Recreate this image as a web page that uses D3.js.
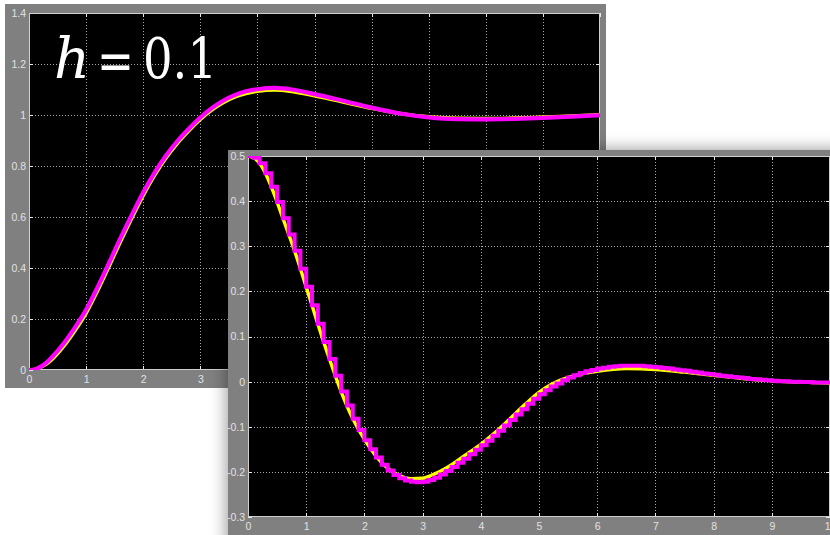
<!DOCTYPE html>
<html><head><meta charset="utf-8">
<script src="https://cdn.jsdelivr.net/npm/d3@7"></script>
<style>
html,body{margin:0;padding:0;background:#fff;overflow:hidden;}
svg{display:block;}
.big{font-family:"DejaVu Serif","Liberation Serif","Times New Roman",serif;font-size:56px;fill:#fff;}
</style></head><body>
<svg id="c" width="830" height="535"></svg>
<script>
// ---------- DATA ----------
const xTicks = [0,1,2,3,4,5,6,7,8,9,10];
const xTickLabels = ["0","1","2","3","4","5","6","7","8","9","10"];
const topYTicks = [0,0.2,0.4,0.6,0.8,1,1.2,1.4];
const topYTickLabels = ["0","0.2","0.4","0.6","0.8","1","1.2","1.4"];
const botYTicks = [-0.3,-0.2,-0.1,0,0.1,0.2,0.3,0.4,0.5];
const botYTickLabels = ["-0.3","-0.2","-0.1","0","0.1","0.2","0.3","0.4","0.5"];

// upper chart: exact (yellow) and approximate (magenta) response
const topTime   = [0,0.1,0.2,0.3,0.4,0.6,0.8,1.0,1.2,1.4,1.6,1.8,2.0,2.2,2.4,2.6,2.8,3.0,3.2,3.4,3.6,3.8,4.0,4.3,4.6,5.0,5.5,6.0,6.5,7.0,7.5,8.0,8.5,9.0,9.5,10];
const topExact  = [0,0.002,0.010,0.022,0.040,0.090,0.152,0.222,0.310,0.405,0.502,0.595,0.684,0.763,0.831,0.889,0.938,0.982,1.019,1.048,1.070,1.084,1.093,1.098,1.092,1.075,1.051,1.026,1.006,0.993,0.987,0.986,0.988,0.992,0.996,1.001];
const topApprox = [0,0.002,0.012,0.028,0.050,0.102,0.165,0.236,0.324,0.419,0.516,0.608,0.696,0.774,0.841,0.898,0.946,0.990,1.027,1.056,1.078,1.093,1.101,1.106,1.100,1.082,1.056,1.029,1.006,0.991,0.984,0.983,0.985,0.989,0.994,0.999];

// lower chart: exact (yellow) curve
const botTime  = [0,0.1,0.2,0.3,0.4,0.5,0.6,0.8,1.0,1.2,1.4,1.6,1.8,2.0,2.2,2.4,2.6,2.8,3.0,3.2,3.4,3.6,3.8,4.0,4.2,4.4,4.6,4.8,5.0,5.2,5.4,5.7,6.0,6.5,7.0,7.5,8.0,8.5,9.0,9.5,10];
const botExact = [0.500,0.496,0.484,0.462,0.432,0.398,0.362,0.290,0.210,0.128,0.050,-0.022,-0.082,-0.128,-0.165,-0.192,-0.208,-0.215,-0.214,-0.205,-0.192,-0.175,-0.157,-0.139,-0.118,-0.095,-0.070,-0.046,-0.024,-0.007,0.005,0.016,0.023,0.029,0.027,0.021,0.014,0.007,0.002,-0.001,-0.003];

// lower chart: sampled (h = 0.1) staircase (magenta)
const stepTime = [0,0.1,0.2,0.3,0.4,0.5,0.6,0.7,0.8,0.9,1.0,1.1,1.2,1.3,1.4,1.5,1.6,1.7,1.8,1.9,2.0,2.1,2.2,2.3,2.4,2.5,2.6,2.7,2.8,2.9,3.0,3.1,3.2,3.3,3.4,3.5,3.6,3.7,3.8,3.9,4.0,4.1,4.2,4.3,4.4,4.5,4.6,4.7,4.8,4.9,5.0,5.1,5.2,5.3,5.4,5.5,5.6,5.7,5.8,5.9,6.0,6.1,6.2,6.3,6.4,6.5,6.6,6.7,6.8,6.9,7.0,7.1,7.2,7.3,7.4,7.5,7.6,7.7,7.8,7.9,8.0,8.1,8.2,8.3,8.4,8.5,8.6,8.7,8.8,8.9,9.0,9.1,9.2,9.3,9.4,9.5,9.6,9.7,9.8,9.9,10.0];
const stepValue = [0.500,0.496,0.484,0.462,0.432,0.398,0.362,0.326,0.290,0.250,0.210,0.169,0.128,0.088,0.050,0.013,-0.022,-0.053,-0.082,-0.107,-0.130,-0.150,-0.168,-0.184,-0.197,-0.207,-0.214,-0.219,-0.222,-0.223,-0.222,-0.218,-0.213,-0.206,-0.198,-0.189,-0.180,-0.171,-0.161,-0.151,-0.141,-0.131,-0.120,-0.109,-0.097,-0.085,-0.073,-0.061,-0.049,-0.038,-0.028,-0.019,-0.011,-0.004,0.003,0.009,0.014,0.019,0.023,0.026,0.029,0.031,0.033,0.034,0.035,0.035,0.035,0.035,0.034,0.033,0.032,0.030,0.029,0.027,0.025,0.024,0.022,0.020,0.018,0.017,0.015,0.013,0.012,0.010,0.009,0.008,0.006,0.005,0.004,0.003,0.002,0.001,0.001,0.000,0.000,-0.001,-0.001,-0.002,-0.002,-0.002,-0.002];

// ---------- DRAW ----------
const svg = d3.select("#c");
const defs = svg.append("defs");
const f = defs.append("filter").attr("id","shadow").attr("x","-20%").attr("y","-20%").attr("width","140%").attr("height","140%");
f.append("feDropShadow").attr("dx",-2).attr("dy",-1).attr("stdDeviation",8).attr("flood-color","#000").attr("flood-opacity",0.38);

const PANEL = "#808080", GRID = "#a8a8a8", BOX = "#d0d0d0", LBL = "#e2e2e2";

function drawPanel(cfg){
  const g = svg.append("g");
  g.append("rect").attr("x",cfg.panel[0]).attr("y",cfg.panel[1])
    .attr("width",cfg.panel[2]).attr("height",cfg.panel[3]).attr("fill",PANEL)
    .attr("filter", cfg.shadow ? "url(#shadow)" : null);
  const x = d3.scaleLinear().domain(cfg.xDomain).range(cfg.xRange);
  const y = d3.scaleLinear().domain(cfg.yDomain).range(cfg.yRange);
  const [x0,x1] = cfg.xRange, [y0,y1] = [cfg.yRange[1], cfg.yRange[0]];
  g.append("rect").attr("x",x0).attr("y",y0).attr("width",x1-x0).attr("height",y1-y0).attr("fill","#000");

  const id = "clip"+cfg.name;
  defs.append("clipPath").attr("id",id).append("rect").attr("x",x0).attr("y",y0).attr("width",x1-x0).attr("height",y1-y0);

  const grid = g.append("g").attr("stroke",GRID).attr("stroke-width",1).attr("stroke-dasharray","1,2").attr("shape-rendering","crispEdges");
  xTicks.slice(1,-1).forEach(t=>{
    const px = Math.round(x(t))+0.5;
    grid.append("line").attr("x1",px).attr("x2",px).attr("y1",y0).attr("y2",y1);
  });
  cfg.yTicks.slice(1,-1).forEach(v=>{
    const py = Math.round(y(v))+0.5;
    grid.append("line").attr("x1",x0).attr("x2",x1).attr("y1",py).attr("y2",py);
  });

  const tk = g.append("g").attr("stroke","#e8e8e8").attr("stroke-width",1).attr("shape-rendering","crispEdges");
  xTicks.forEach(t=>{
    const px = Math.round(x(t))+0.5;
    tk.append("line").attr("x1",px).attr("x2",px).attr("y1",y1).attr("y2",y1-4);
    tk.append("line").attr("x1",px).attr("x2",px).attr("y1",y0).attr("y2",y0+4);
  });
  cfg.yTicks.forEach(v=>{
    const py = Math.round(y(v))+0.5;
    tk.append("line").attr("x1",x0).attr("x2",x0+4).attr("y1",py).attr("y2",py);
    tk.append("line").attr("x1",x1).attr("x2",x1-4).attr("y1",py).attr("y2",py);
  });

  g.append("rect").attr("x",x0+0.5).attr("y",y0+0.5).attr("width",x1-x0-1).attr("height",y1-y0-1)
    .attr("fill","none").attr("stroke",BOX).attr("stroke-width",1).attr("shape-rendering","crispEdges");

  const ax = g.append("g").attr("transform",`translate(0,${y1})`)
    .call(d3.axisBottom(x).tickValues(xTicks).tickFormat((d,i)=>xTickLabels[i]).tickSize(0).tickPadding(6));
  const ay = g.append("g").attr("transform",`translate(${x0},0)`)
    .call(d3.axisLeft(y).tickValues(cfg.yTicks).tickFormat((d,i)=>cfg.yTickLabels[i]).tickSize(0).tickPadding(3));
  [ax,ay].forEach(a=>{
    a.select(".domain").remove();
    a.selectAll("text").attr("fill",LBL).style("font-family","'Liberation Sans', Arial, sans-serif").style("font-size","10.5px");
  });

  const curves = g.append("g").attr("clip-path",`url(#${id})`);
  return {x,y,curves};
}

// upper panel
const P1 = drawPanel({name:"top", panel:[5,4,601,384], xDomain:[0,10], xRange:[29,600],
  yDomain:[0,1.4], yRange:[370,13], yTicks:topYTicks, yTickLabels:topYTickLabels});
const l1 = d3.line().x((d,i)=>P1.x(topTime[i])).y(d=>P1.y(d)).curve(d3.curveMonotoneX);
P1.curves.append("path").attr("d",l1(topExact)).attr("fill","none").attr("stroke","#ffff00").attr("stroke-width",3.4);
P1.curves.append("path").attr("d",l1(topApprox)).attr("fill","none").attr("stroke","#ff00ff").attr("stroke-width",4.2);

// h = 0.1 label
const tg = svg.append("g");
tg.append("text").attr("class","big").attr("x",54).attr("y",78).attr("font-style","italic").text("h");
tg.append("text").attr("class","big").attr("x",97).attr("y",80).attr("textLength",37).attr("lengthAdjust","spacingAndGlyphs").text("=");
tg.append("text").attr("class","big").attr("x",143).attr("y",78).attr("textLength",74).attr("lengthAdjust","spacingAndGlyphs").text("0.1");

// lower panel
const P2 = drawPanel({name:"bot", panel:[228,150,620,400], shadow:true, xDomain:[0,10], xRange:[248,830],
  yDomain:[-0.3,0.5], yRange:[517,156], yTicks:botYTicks, yTickLabels:botYTickLabels});
const l2 = d3.line().x((d,i)=>P2.x(botTime[i])).y(d=>P2.y(d)).curve(d3.curveMonotoneX);
const s2 = d3.line().x((d,i)=>P2.x(stepTime[i])).y(d=>P2.y(d)).curve(d3.curveStepAfter);
P2.curves.append("path").attr("d",l2(botExact)).attr("fill","none").attr("stroke","#ffff00").attr("stroke-width",3.4);
P2.curves.append("path").attr("d",s2(stepValue)).attr("fill","none").attr("stroke","#ff00ff").attr("stroke-width",4).attr("stroke-linejoin","miter");
</script>
</body></html>
